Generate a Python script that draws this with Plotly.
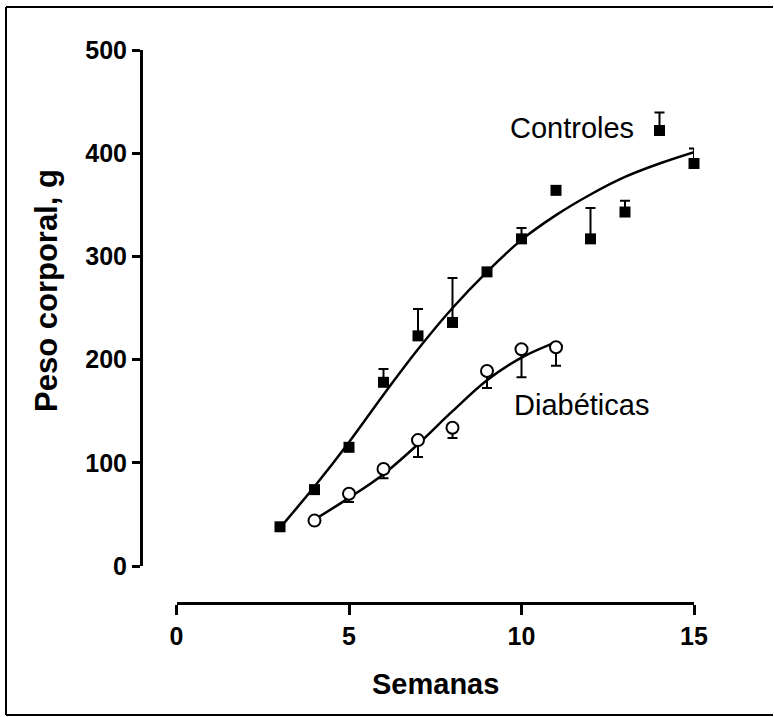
import plotly.graph_objects as go

# Weekly body weight (g): control vs diabetic animals
weeks_ctrl = [3, 4, 5, 6, 7, 8, 9, 10, 11, 12, 13, 14, 15]
weight_ctrl = [38, 74, 115, 178, 223, 236, 285, 317, 364, 317, 343, 422, 390]
sem_ctrl = [0, 0, 0, 13, 26, 43, 0, 10.5, 0, 30, 11, 17.5, 14.5]

weeks_diab = [4, 5, 6, 7, 8, 9, 10, 11]
weight_diab = [44, 70, 94, 122, 134, 189, 210, 212]
sem_diab = [0, 8, 9, 16.5, 10, 16.5, 27, 18]

# Fitted growth curves, sampled weekly
fit_weeks_ctrl = [3, 4, 5, 6, 7, 8, 9, 10, 11, 12, 13, 14, 15]
fit_ctrl = [37, 77, 120, 166, 210, 250, 285, 316, 340, 360, 377, 390, 401]
fit_weeks_diab = [4, 5, 6, 7, 8, 9, 10, 11]
fit_diab = [45, 66, 89, 118, 150, 180, 202, 217]

x_ticks = [0, 5, 10, 15]
y_ticks = [0, 100, 200, 300, 400, 500]

W, H = 774, 717
FONT_B = "Liberation Sans"

fig = go.Figure()

fig.add_trace(go.Scatter(
    x=fit_weeks_ctrl, y=fit_ctrl, mode="lines",
    line=dict(color="black", width=2.5, shape="spline", smoothing=1.0),
    cliponaxis=False, hoverinfo="skip"))
fig.add_trace(go.Scatter(
    x=fit_weeks_diab, y=fit_diab, mode="lines",
    line=dict(color="black", width=2.5, shape="spline", smoothing=1.0),
    cliponaxis=False, hoverinfo="skip"))

fig.add_trace(go.Scatter(
    x=weeks_ctrl, y=weight_ctrl, mode="markers",
    marker=dict(symbol="square", size=11, color="black",
                line=dict(color="black", width=0)),
    error_y=dict(type="data", symmetric=False, array=sem_ctrl,
                 arrayminus=[0] * len(sem_ctrl),
                 color="black", thickness=2, width=5),
    cliponaxis=False, name="Controles"))

fig.add_trace(go.Scatter(
    x=weeks_diab, y=weight_diab, mode="markers",
    marker=dict(symbol="circle", size=12, color="white",
                line=dict(color="black", width=2)),
    error_y=dict(type="data", symmetric=False, array=[0] * len(sem_diab),
                 arrayminus=sem_diab,
                 color="black", thickness=2, width=5),
    cliponaxis=False, name="Diabéticas"))

# Series labels
fig.add_annotation(x=11.46, y=424, xref="x", yref="y", text="Controles",
                   xanchor="center", yanchor="middle",
                   showarrow=False, font=dict(family=FONT_B, size=29, color="black"))
fig.add_annotation(x=11.75, y=156, xref="x", yref="y", text="Diabéticas",
                   xanchor="center", yanchor="middle",
                   showarrow=False, font=dict(family=FONT_B, size=29, color="black"))

# Y axis title
fig.add_annotation(x=46 / W, y=(H - 291) / H, xref="paper", yref="paper",
                   xanchor="center", yanchor="middle",
                   text="<b>Peso corporal, g</b>", textangle=-90, showarrow=False,
                   font=dict(family=FONT_B, size=31, color="black"))

# X axis title
fig.add_annotation(x=435 / W, y=(H - 684) / H, xref="paper", yref="paper",
                   xanchor="center", yanchor="middle",
                   text="<b>Semanas</b>", showarrow=False,
                   font=dict(family=FONT_B, size=29, color="black"))

# Outer frame (left, top, bottom)
for x0, y0, x1, y1 in [(6, 7, 6, 715), (6, 7, W - 1, 7), (6, 715, W - 1, 715)]:
    fig.add_shape(type="line", xref="paper", yref="paper",
                  x0=x0 / W, x1=x1 / W, y0=(H - y0) / H, y1=(H - y1) / H,
                  line=dict(color="black", width=2))

fig.update_layout(
    width=W, height=H, autosize=False,
    margin=dict(l=0, r=0, t=0, b=0, pad=0, autoexpand=False),
    paper_bgcolor="white", plot_bgcolor="white",
    showlegend=False,
    xaxis=dict(
        domain=[176.5 / W, 694 / W], range=[0, 15],
        anchor="free", position=(H - 603) / H, automargin=False,
        tickvals=x_ticks, ticktext=[str(v) for v in x_ticks],
        showline=True, linecolor="black", linewidth=3,
        ticks="outside", ticklen=10, tickwidth=3, tickcolor="black",
        showgrid=False, zeroline=False,
        tickfont=dict(family=FONT_B, size=25, color="black", weight="bold"),
    ),
    yaxis=dict(
        domain=[(H - 566) / H, (H - 50) / H], range=[0, 500],
        anchor="free", position=141 / W, automargin=False,
        tickvals=y_ticks, ticktext=[str(v) for v in y_ticks],
        showline=True, linecolor="black", linewidth=3,
        ticks="outside", ticklen=8, tickwidth=3, tickcolor="black",
        showgrid=False, zeroline=False,
        tickfont=dict(family=FONT_B, size=25, color="black", weight="bold"),
    ),
)

fig.write_html("out.html")
